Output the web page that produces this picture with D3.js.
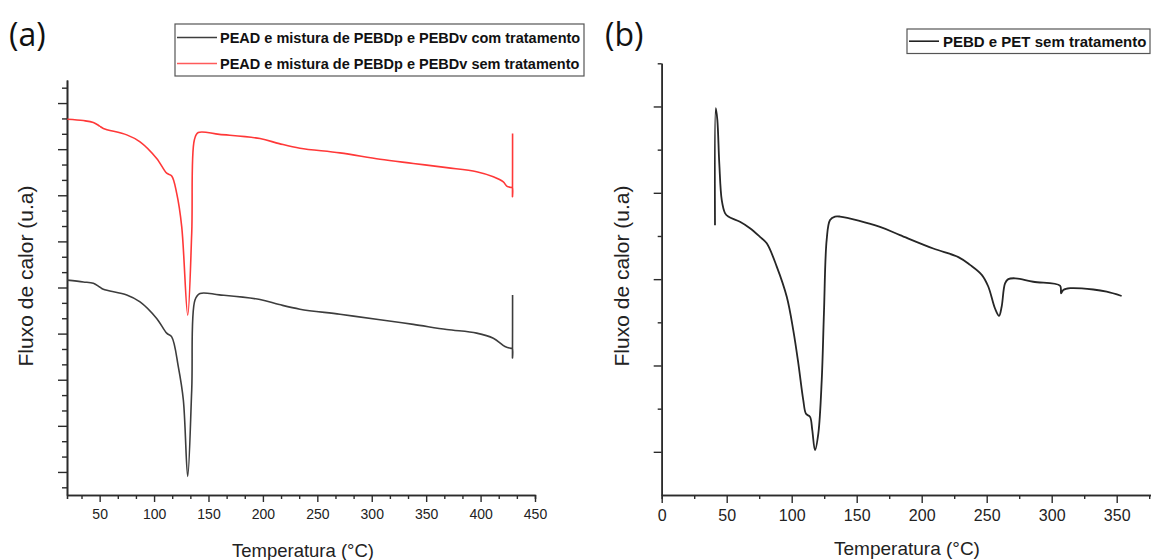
<!DOCTYPE html>
<html><head><meta charset="utf-8">
<script src="https://cdn.jsdelivr.net/npm/d3@7"></script>
<style>body{margin:0;background:#fff}svg{display:block}</style>
</head><body>
<svg id="c" width="1151" height="560"></svg>
<script>
// ---------- DATA ----------
const xTicksA = [50,100,150,200,250,300,350,400,450];
const xTicksB = [0,50,100,150,200,250,300,350];

const legendA = ["PEAD e mistura de PEBDp e PEBDv com tratamento",
                 "PEAD e mistura de PEBDp e PEBDv sem tratamento"];
const legendB = ["PEBD e PET sem tratamento"];

// (a) black: com tratamento
const tempA_com = [20.3,35,44.2,50,53.4,74.9,87.1,102.4,111.6,116.2,122.3,126.9,130.9,134.6,137.6,142.2,160,197.3,215,234,270.8,307.6,338.2,368.9,396.4,411.7,422.4,428,429.2,429.3,429.4];
const fluxA_com = [4.16,4.12,4.09,4.01,3.96,3.84,3.69,3.33,3.01,2.93,2.28,1.56,-0.10,1.78,3.73,3.87,3.84,3.74,3.63,3.53,3.42,3.30,3.20,3.09,3.01,2.90,2.72,2.68,2.68,2.47,3.84];

// (a) red: sem tratamento
const tempA_sem = [20.3,35,44.2,50,53.4,74.9,87.1,102.4,111.6,116.2,120.8,125.4,130.9,134.6,137.0,140.6,160,197.3,215,234,270.8,307.6,338.2,368.9,396.4,411.7,420.9,424,428,429.2,429.3,429.4];
const fluxA_sem = [7.65,7.62,7.58,7.50,7.45,7.31,7.16,6.80,6.48,6.42,6.04,5.32,3.40,5.18,7.20,7.36,7.32,7.23,7.12,7.02,6.92,6.78,6.69,6.60,6.51,6.40,6.29,6.20,6.17,6.17,5.97,7.34];

// (b) PEBD e PET sem tratamento
const tempB = [41.0,41.6,42.8,44.3,46.2,48.7,51.2,60.2,67.9,75.6,80.8,88.5,96.2,101.2,105.1,108.9,111.0,114.1,115.8,117.9,120.5,123.1,124.8,126.9,129.5,133.3,137.2,167.9,183.3,208.9,228.2,237.2,246.2,251.2,256.4,259.5,261.5,264.1,266.6,271.8,285.8,306.4,307.2,308.9,314.2,332.0,342.3,353.8];
const fluxB = [6.25,8.96,8.69,7.68,6.83,6.53,6.45,6.33,6.18,5.98,5.83,5.29,4.59,3.82,3.05,2.20,1.88,1.81,1.51,1.04,1.43,2.66,4.21,5.91,6.37,6.45,6.45,6.21,6.02,5.71,5.51,5.33,5.10,4.83,4.32,4.15,4.36,4.90,5.00,5.02,4.94,4.85,4.67,4.75,4.79,4.76,4.71,4.61];

// ---------- DRAW ----------
const svg = d3.select("#c");
svg.append("rect").attr("width",1151).attr("height",560).attr("fill","#fff");
const FONT = "'Liberation Sans', Arial, sans-serif";
const AX = "#2b2b2b";
const CURVE = d3.curveCatmullRom.alpha(0.5);

function styleAxis(g){
  g.select(".domain").attr("stroke",AX).attr("stroke-width",1.6);
  g.selectAll(".tick line").attr("stroke",AX).attr("stroke-width",1.4);
  g.selectAll(".tick text").attr("fill","#222").attr("font-family",FONT);
}

// ===== Panel (a) =====
const xA = d3.scaleLinear().domain([20,450]).range([67,535]);
const yA = d3.scaleLinear().domain([-0.5,8.5]).range([495,80]);

const minorXA = d3.range(1,28).map(k=>k*50/3).filter(v=>v>20 && v<450 && Math.abs(v/50-Math.round(v/50))>1e-6);
const majorYA = d3.range(0,9);
const minorYA = d3.range(-1,26).map(k=>k/3).filter(v=>v>-0.5 && v<8.5 && Math.abs(v-Math.round(v))>1e-6);

svg.append("g").attr("transform","translate(0,495)")
  .call(d3.axisBottom(xA).tickValues(minorXA).tickSize(4).tickFormat(""))
  .call(styleAxis);
svg.append("g").attr("transform","translate(0,495)")
  .call(d3.axisBottom(xA).tickValues(xTicksA).tickSize(7).tickSizeOuter(0).tickPadding(7))
  .call(styleAxis)
  .call(g=>g.selectAll(".tick text").attr("font-size",14));
svg.append("g").attr("transform","translate(67,0)")
  .call(d3.axisLeft(yA).tickValues(minorYA).tickSize(5).tickSizeOuter(0).tickFormat(""))
  .call(styleAxis);
svg.append("g").attr("transform","translate(67,0)")
  .call(d3.axisLeft(yA).tickValues(majorYA).tickSize(9).tickSizeOuter(0).tickFormat(""))
  .call(styleAxis);

const lineA = (T,V)=>d3.line().curve(CURVE).x((d,i)=>xA(T[i])).y((d,i)=>yA(V[i]))(T);
svg.append("path").attr("d",lineA(tempA_com,fluxA_com))
  .attr("fill","none").attr("stroke","#3d3d3d").attr("stroke-width",1.6).attr("stroke-linejoin","round");
svg.append("path").attr("d",lineA(tempA_sem,fluxA_sem))
  .attr("fill","none").attr("stroke","#ff3838").attr("stroke-width",1.6).attr("stroke-linejoin","round");

svg.append("text").attr("x",303).attr("y",557).attr("text-anchor","middle")
  .attr("font-family",FONT).attr("font-size",18.5).attr("fill","#222").text("Temperatura (°C)");
svg.append("text").attr("transform","translate(33,276) rotate(-90)").attr("text-anchor","middle")
  .attr("font-family",FONT).attr("font-size",21).attr("fill","#222").text("Fluxo de calor (u.a)");
svg.append("text").attr("x",9).attr("y",46).attr("font-family","'Open Sans', sans-serif")
  .attr("font-size",32).attr("fill","#111").text("(a)");

// legend (a)
svg.append("rect").attr("x",175).attr("y",24).attr("width",409).attr("height",52)
  .attr("fill","#fff").attr("stroke","#555").attr("stroke-width",1.2);
const legColorsA = ["#3d3d3d","#ff5a5a"];
legendA.forEach((t,i)=>{
  const cy = 37.5 + i*26;
  svg.append("line").attr("x1",177).attr("x2",217).attr("y1",cy).attr("y2",cy)
    .attr("stroke",legColorsA[i]).attr("stroke-width",1.6);
  svg.append("text").attr("x",220).attr("y",cy+5).attr("font-family",FONT).attr("font-weight","bold")
    .attr("font-size",14.5).attr("fill","#111").text(t);
});

// ===== Panel (b) =====
const xB = d3.scaleLinear().domain([0,400]).range([661.7,1181.7]);
const yB = d3.scaleLinear().domain([0,10]).range([495,63.3]);
const minorXB = d3.range(25,400,50);
const majorYB = [1,3,5,7,9];
const minorYB = [2,4,6,8,10];

svg.append("g").attr("transform","translate(0,495)")
  .call(d3.axisBottom(xB).tickValues(minorXB).tickSize(4).tickFormat(""))
  .call(styleAxis);
svg.append("g").attr("transform","translate(0,495)")
  .call(d3.axisBottom(xB).tickValues(xTicksB).tickSize(8).tickSizeOuter(0).tickPadding(7))
  .call(styleAxis)
  .call(g=>g.selectAll(".tick text").attr("font-size",16));
svg.append("g").attr("transform","translate(661.7,0)")
  .call(d3.axisLeft(yB).tickValues(minorYB).tickSize(4).tickSizeOuter(0).tickFormat(""))
  .call(styleAxis);
svg.append("g").attr("transform","translate(661.7,0)")
  .call(d3.axisLeft(yB).tickValues(majorYB).tickSize(8).tickSizeOuter(0).tickFormat(""))
  .call(styleAxis);

svg.append("path").attr("d",d3.line().curve(CURVE).x((d,i)=>xB(tempB[i])).y((d,i)=>yB(fluxB[i]))(tempB))
  .attr("fill","none").attr("stroke","#262626").attr("stroke-width",1.8).attr("stroke-linejoin","round");

svg.append("text").attr("x",907).attr("y",555).attr("text-anchor","middle")
  .attr("font-family",FONT).attr("font-size",19).attr("fill","#222").text("Temperatura (°C)");
svg.append("text").attr("transform","translate(629,276) rotate(-90)").attr("text-anchor","middle")
  .attr("font-family",FONT).attr("font-size",21).attr("fill","#222").text("Fluxo de calor (u.a)");
svg.append("text").attr("x",605).attr("y",46).attr("font-family","'Open Sans', sans-serif")
  .attr("font-size",32).attr("fill","#111").text("(b)");

// legend (b)
svg.append("rect").attr("x",907).attr("y",29).attr("width",243).attr("height",24.5)
  .attr("fill","#fff").attr("stroke","#555").attr("stroke-width",1.2);
legendB.forEach((t,i)=>{
  const cy = 41.2;
  svg.append("line").attr("x1",909).attr("x2",939).attr("y1",cy).attr("y2",cy)
    .attr("stroke","#222").attr("stroke-width",1.6);
  svg.append("text").attr("x",943).attr("y",cy+5.5).attr("font-family",FONT).attr("font-weight","bold")
    .attr("font-size",15).attr("fill","#111").text(t);
});
</script>
</body></html>
